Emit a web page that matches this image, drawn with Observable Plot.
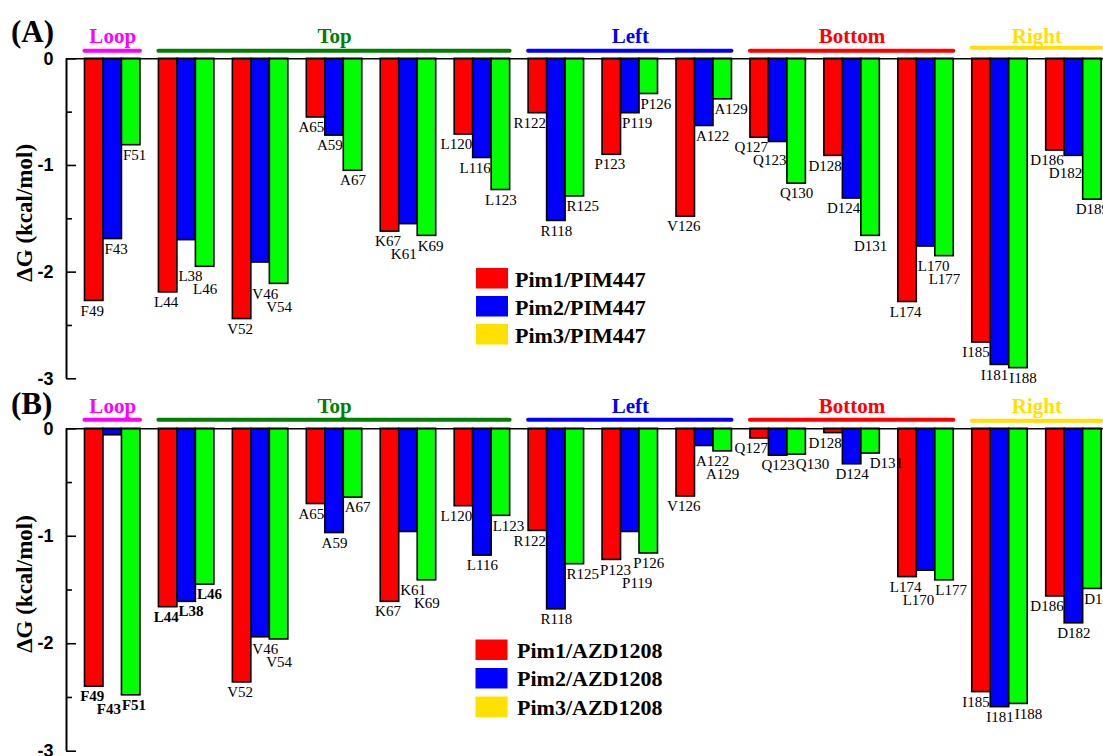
<!DOCTYPE html>
<html>
<head>
<meta charset="utf-8">
<script src="https://cdn.jsdelivr.net/npm/d3@7"></script>
<script src="https://cdn.jsdelivr.net/npm/@observablehq/plot@0.6"></script>
<style>
  html, body { margin: 0; padding: 0; background: #fff; }
  #page { position: relative; width: 1103px; height: 756px; overflow: hidden; background: #fff; }
  .panel { position: absolute; left: 0; }
  #overlay { position: absolute; left: 0; top: 0; pointer-events: none; }
</style>
</head>
<body>
<div id="page">
  <div id="panelA" class="panel" style="top:0px"></div>
  <div id="panelB" class="panel" style="top:390px"></div>
</div>
<script>
// ---------- data ----------
const residuesPim1 = ["F49","L44","V52","A65","K67","L120","R122","P123","V126","Q127","D128","L174","I185","D186"];
const residuesPim2 = ["F43","L38","V46","A59","K61","L116","R118","P119","A122","Q123","D124","L170","I181","D182"];
const residuesPim3 = ["F51","L46","V54","A67","K69","L123","R125","P126","A129","Q130","D131","L177","I188","D189"];

const regionNames      = ["Loop","Top","Left","Bottom","Right"];
const regionFirstGroup = [0, 1, 6, 9, 12];
const regionLastGroup  = [0, 5, 8, 11, 13];

const yTicks      = [0, -1, -2, -3];
const yMinorTicks = [-0.5, -1.5, -2.5];
const yLabel = "ΔG (kcal/mol)";

// Panel A: PIM447
const seriesA = ["Pim1/PIM447", "Pim2/PIM447", "Pim3/PIM447"];
const pim1A = [-2.27, -2.19, -2.44, -0.55, -1.62, -0.71, -0.51, -0.90, -1.48, -0.74, -0.91, -2.28, -2.66, -0.86];
const pim2A = [-1.69, -1.70, -1.91, -0.72, -1.55, -0.93, -1.52, -0.51, -0.63, -0.78, -1.31, -1.76, -2.87, -0.91];
const pim3A = [-0.81, -1.95, -2.11, -1.05, -1.66, -1.23, -1.29, -0.33, -0.38, -1.17, -1.66, -1.85, -2.90, -1.32];

// Panel B: AZD1208
const seriesB = ["Pim1/AZD1208", "Pim2/AZD1208", "Pim3/AZD1208"];
const pim1B = [-2.40, -1.66, -2.36, -0.70, -1.61, -0.72, -0.95, -1.22, -0.63, -0.09, -0.04, -1.38, -2.45, -1.56];
const pim2B = [-0.06, -1.61, -1.94, -0.97, -0.96, -1.18, -1.68, -0.96, -0.16, -0.25, -0.33, -1.32, -2.59, -1.81];
const pim3B = [-2.48, -1.45, -1.96, -0.64, -1.41, -0.81, -1.26, -1.16, -0.21, -0.24, -0.23, -1.41, -2.56, -1.49];

// ---------- styles ----------
const barColors    = ["#ff0000", "#0000ff", "#00ff00"];
const legendColors = ["#ff0000", "#0000ff", "#ffe000"];
const regionColors = ["#ff00ff", "#008000", "#0000ff", "#ff0000", "#ffe000"];
const serif = "Liberation Serif, Times New Roman, serif";
const sans  = "Liberation Sans, Arial, sans-serif";
const labelDx = [-2, 0, 0];
const labelSize = 15;

const WIDTH = 1103, MARGIN_LEFT = 66, X_MAX = 56.1;
const pxPerUnit = (WIDTH - MARGIN_LEFT) / X_MAX;

const measureCtx = document.createElement("canvas").getContext("2d");
function textWidth(t, bold) {
  measureCtx.font = (bold ? "bold " : "") + labelSize + "px 'Liberation Serif'";
  return measureCtx.measureText(t).width;
}

// Place residue labels under their bars, avoiding deeper neighbouring bars and earlier labels.
function placeLabels(rows, cfg) {
  const innerH = cfg.height - cfg.marginTop - cfg.marginBottom;
  const yPx = v => cfg.marginTop + (-v / 3) * innerH;
  const xPx = u => MARGIN_LEFT + u * pxPerUnit;
  const placed = [];
  const groups = Array.from(d3.group(rows, d => d.g)).sort((a, b) => a[0] - b[0]);
  for (const [g, list] of groups) {
    list.sort((a, b) => a.s - b.s);
    list.forEach(d => {
      const L = xPx(4 * g + 1 + d.s), R = xPx(4 * g + 2 + d.s);
      const w = textWidth(d.label, d.bold);
      let top = yPx(d.v) + 4;
      let cx = (L + R) / 2 + labelDx[d.s];
      let maxRight = Infinity;
      const left = list.find(e => e.s === d.s - 1), right = list.find(e => e.s === d.s + 1);
      const leftDeep = left && left.v < d.v, rightDeep = right && right.v < d.v;
      if (leftDeep && rightDeep) {
        const shallower = left.v > right.v ? left : right;
        top = yPx(shallower.v) + 4;
        if (shallower === left) { cx = Math.min(cx, R - 1 - w / 2); maxRight = R - 1; }
        else cx = Math.max(cx, L + 1 + w / 2);
      } else if (rightDeep) {
        cx = Math.min(cx, R - 1 - w / 2); maxRight = R - 1;
      } else if (leftDeep) {
        cx = Math.max(cx, L + 1 + w / 2);
      }
      let moved = true, guard = 0;
      while (moved && guard++ < 12) {
        moved = false;
        for (const p of placed) {
          const ox = Math.min(cx + w / 2, p.cx + p.w / 2) - Math.max(cx - w / 2, p.cx - p.w / 2);
          const oy = Math.min(top + 12, p.top + 12) - Math.max(top, p.top);
          if (ox > 1 && oy > 0) {
            if (ox <= 8 && cx + w / 2 + ox + 1 <= maxRight) cx += ox + 1;
            else top = p.top + 13;
            moved = true;
          }
        }
      }
      placed.push({cx, w, top});
      d.lx = (cx - MARGIN_LEFT) / pxPerUnit;
      d.ly = -((top - cfg.marginTop) / innerH) * 3;
    });
  }
}

function makePanel(values, cfg) {
  const residues = [residuesPim1, residuesPim2, residuesPim3];
  const rows = [];
  values.forEach((arr, s) => arr.forEach((v, g) =>
    rows.push({s, g, v, label: residues[s][g], bold: g < cfg.boldGroups})));
  placeLabels(rows, cfg);
  const regions = regionNames.map((name, i) => ({name, i, a: regionFirstGroup[i], b: regionLastGroup[i]}));
  const labelMarks = [true, false].map(bold => Plot.text(rows.filter(d => d.bold === bold), {
    x: "lx", y: "ly", text: "label", lineAnchor: "top", textAnchor: "middle",
    fontSize: labelSize, fontFamily: serif, fontWeight: bold ? "bold" : "normal", fill: "#000"
  }));
  return Plot.plot({
    width: WIDTH, height: cfg.height,
    marginLeft: MARGIN_LEFT, marginRight: 0, marginTop: cfg.marginTop, marginBottom: cfg.marginBottom,
    x: {domain: [0, X_MAX], axis: null},
    y: {domain: [-3, 0], axis: null},
    color: {type: "identity"},
    style: {background: "transparent", overflow: "visible"},
    marks: [
      Plot.rect(rows, {
        x1: d => 4 * d.g + 1 + d.s, x2: d => 4 * d.g + 2 + d.s,
        y1: 0, y2: "v", fill: d => barColors[d.s], stroke: "#000", strokeWidth: 1.6
      }),
      Plot.ruleY([0], {x1: 0, x2: X_MAX, stroke: "#000", strokeWidth: 1.6}),
      Plot.ruleX([0], {y1: -3, y2: 0, stroke: "#000", strokeWidth: 2}),
      Plot.ruleY(yTicks, {y: d => d, x1: 0, x2: 10 / pxPerUnit, stroke: "#000", strokeWidth: 1.6}),
      Plot.ruleY(yMinorTicks, {y: d => d, x1: 0, x2: 6 / pxPerUnit, stroke: "#000", strokeWidth: 1.6}),
      Plot.text(yTicks, {
        x: 0, y: d => d, text: d => String(d), dx: -13, textAnchor: "end", lineAnchor: "middle",
        fontSize: 18, fontWeight: "bold", fontFamily: sans, fill: "#000"
      }),
      Plot.text([yLabel], {
        text: d => d, frameAnchor: "left", dx: -42, dy: -6, rotate: -90,
        textAnchor: "middle", lineAnchor: "middle",
        fontSize: 23, fontWeight: "bold", fontFamily: serif, fill: "#000"
      }),
      ...regions.map(r => Plot.ruleY([r], {
        y: 0, x1: d => 4 * d.a + 1, x2: d => 4 * d.b + 4,
        dy: r.name === "Right" ? cfg.rightLineDy : cfg.lineDy,
        stroke: regionColors[r.i], strokeWidth: 4, strokeLinecap: "round"
      })),
      Plot.text(regions, {
        x: d => (4 * d.a + 1 + 4 * d.b + 4) / 2, y: 0, text: "name",
        dy: -16, lineAnchor: "bottom", textAnchor: "middle",
        fill: d => regionColors[d.i], fontSize: 21, fontWeight: "bold", fontFamily: serif
      }),
      ...labelMarks
    ]
  });
}

document.getElementById("panelA").appendChild(
  makePanel([pim1A, pim2A, pim3A], {height: 390, marginTop: 58.3, marginBottom: 11.7, boldGroups: 0, lineDy: -8, rightLineDy: -11})
);
document.getElementById("panelB").appendChild(
  makePanel([pim1B, pim2B, pim3B], {height: 366, marginTop: 38.3, marginBottom: 5.3, boldGroups: 2, lineDy: -9, rightLineDy: -8})
);

// ---------- overlay: panel letters and legends ----------
const svg = d3.select("#page").append("svg")
  .attr("id", "overlay").attr("width", 1103).attr("height", 756);

svg.append("text").attr("x", 11).attr("y", 41.7).text("(A)")
  .attr("font-family", serif).attr("font-weight", "bold").attr("font-size", 31);
svg.append("text").attr("x", 11).attr("y", 414).text("(B)")
  .attr("font-family", serif).attr("font-weight", "bold").attr("font-size", 31);

function legend(names, x, y0, step, textX, baseOff) {
  names.forEach((name, i) => {
    const y = y0 + i * step;
    svg.append("rect").attr("x", x).attr("y", y).attr("width", 32).attr("height", 20.5)
      .attr("fill", legendColors[i]);
    svg.append("text").attr("x", textX).attr("y", y + baseOff).text(name)
      .attr("font-family", serif).attr("font-weight", "bold").attr("font-size", 22);
  });
}
legend(seriesA, 476, 268, 28, 515, 18.5);
legend(seriesB, 475.5, 639.5, 28.5, 517, 18);
</script>
</body>
</html>
